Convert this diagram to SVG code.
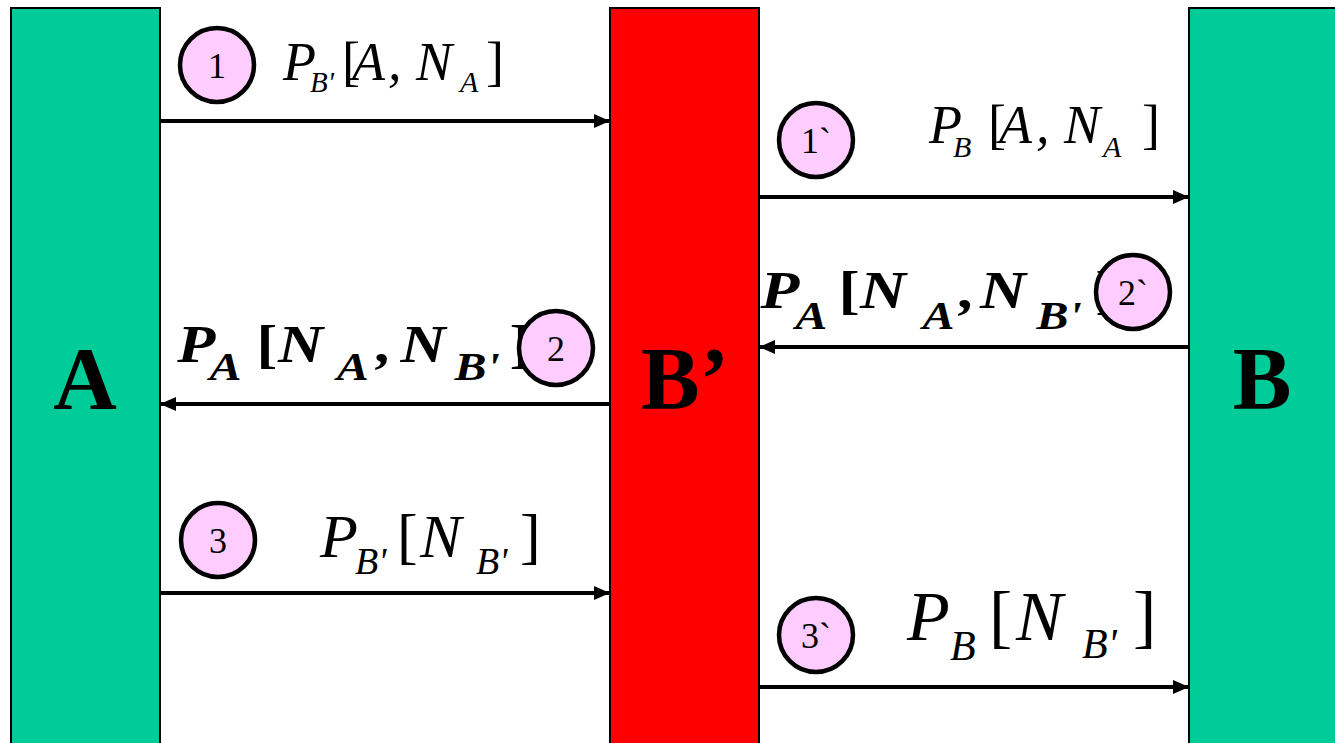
<svg xmlns="http://www.w3.org/2000/svg" width="1335" height="743" viewBox="0 0 1335 743">
<style>
.bar{stroke:#000;stroke-width:2}
.conn{stroke:#000;stroke-width:4;fill:none}
.badge{fill:#FFCCFF;stroke:#000;stroke-width:4.5}
.bt{font-family:"Liberation Serif","Times New Roman",serif;font-size:36px;text-anchor:middle}
.big{font-family:"Liberation Serif","Times New Roman",serif;font-weight:bold;font-size:88px;text-anchor:middle}
.m{font-family:"Liberation Serif","Times New Roman",serif;font-style:italic}
.mb{font-family:"Liberation Serif","Times New Roman",serif;font-style:italic;font-weight:bold}
.up{font-style:normal}
</style>
<defs>
<marker id="ah" markerUnits="userSpaceOnUse" markerWidth="16" markerHeight="14" refX="15" refY="7" orient="auto">
<path d="M0,0 L16,7 L0,14 Z" fill="#000"/>
</marker>
</defs>
<rect width="1335" height="743" fill="#fff"/>
<g id="nodeA"><rect class="bar" x="11" y="8" width="149" height="745" fill="#00CC99"/><text class="big" x="85" y="408">A</text></g>
<g id="nodeBp"><rect class="bar" x="610" y="8" width="149" height="745" fill="#FF0000"/><text class="big" x="685" y="408">B’</text></g>
<g id="nodeB"><rect class="bar" x="1189" y="8" width="160" height="745" fill="#00CC99"/><text class="big" x="1262" y="408">B</text></g>
<g id="connectors">
<line class="conn" x1="160" y1="121" x2="609" y2="121" marker-end="url(#ah)"/>
<line class="conn" x1="759" y1="197" x2="1188" y2="197" marker-end="url(#ah)"/>
<line class="conn" x1="1188" y1="347" x2="760" y2="347" marker-end="url(#ah)"/>
<line class="conn" x1="609" y1="404" x2="161" y2="404" marker-end="url(#ah)"/>
<line class="conn" x1="160" y1="593" x2="609" y2="593" marker-end="url(#ah)"/>
<line class="conn" x1="759" y1="687" x2="1188" y2="687" marker-end="url(#ah)"/>
</g>
<g id="label1" class="m" font-size="54"><text y="80"><tspan x="283">P</tspan><tspan x="310" y="92" font-size="29">B'</tspan><tspan class="up" x="342" y="80">[</tspan><tspan x="352">A</tspan><tspan x="388">,</tspan><tspan x="416">N</tspan><tspan x="460" y="92" font-size="30">A</tspan><tspan class="up" x="486" y="80">]</tspan></text></g>
<g id="label1b" class="m" font-size="54"><text y="143"><tspan x="929">P</tspan><tspan x="953" y="157" font-size="30">B</tspan><tspan class="up" x="988" y="143">[</tspan><tspan x="999">A</tspan><tspan x="1036">,</tspan><tspan x="1064">N</tspan><tspan x="1103" y="157" font-size="30">A</tspan><tspan class="up" x="1142" y="143">]</tspan></text></g>
<g id="label2" class="mb" font-size="52" transform="translate(176,0) scale(1.2,1)"><text y="362"><tspan x="1">P</tspan><tspan x="28" y="380" font-size="40">A</tspan><tspan class="up" x="67" y="362">[</tspan><tspan x="85">N</tspan><tspan x="134" y="380" font-size="40">A</tspan><tspan x="167" y="362">,</tspan><tspan x="187">N</tspan><tspan x="232" y="380" font-size="40">B'</tspan><tspan class="up" x="278" y="362">]</tspan></text></g>
<g id="label2b" class="mb" font-size="53" transform="translate(758,0) scale(1.2,1)"><text y="308"><tspan x="2">P</tspan><tspan x="31" y="329" font-size="40">A</tspan><tspan class="up" x="67" y="308">[</tspan><tspan x="85">N</tspan><tspan x="137" y="329" font-size="40">A</tspan><tspan x="168" y="308">,</tspan><tspan x="185">N</tspan><tspan x="232" y="329" font-size="40">B'</tspan><tspan class="up" x="281" y="308">]</tspan></text></g>
<g id="label3" class="m" font-size="62"><text y="557"><tspan x="320">P</tspan><tspan x="355" y="574" font-size="38">B'</tspan><tspan class="up" x="397" y="557">[</tspan><tspan x="420">N</tspan><tspan x="476" y="574" font-size="38">B'</tspan><tspan class="up" x="520" y="557">]</tspan></text></g>
<g id="label3b" class="m" font-size="70"><text y="640"><tspan x="907">P</tspan><tspan x="950" y="660" font-size="42">B</tspan><tspan class="up" x="989" y="640">[</tspan><tspan x="1016">N</tspan><tspan x="1082" y="658" font-size="42">B'</tspan><tspan class="up" x="1133" y="640">]</tspan></text></g>
<g id="step1"><circle class="badge" cx="217" cy="65" r="37"/><text class="bt" x="217" y="78">1</text></g>
<g id="step1b"><circle class="badge" cx="816" cy="140" r="37"/><text class="bt" x="816" y="153">1`</text></g>
<g id="step2"><circle class="badge" cx="556" cy="348" r="37"/><text class="bt" x="556" y="361">2</text></g>
<g id="step2b"><circle class="badge" cx="1133" cy="292" r="37"/><text class="bt" x="1133" y="305">2`</text></g>
<g id="step3"><circle class="badge" cx="218" cy="540" r="37"/><text class="bt" x="218" y="553">3</text></g>
<g id="step3b"><circle class="badge" cx="816" cy="635" r="37"/><text class="bt" x="816" y="648">3`</text></g>
</svg>
